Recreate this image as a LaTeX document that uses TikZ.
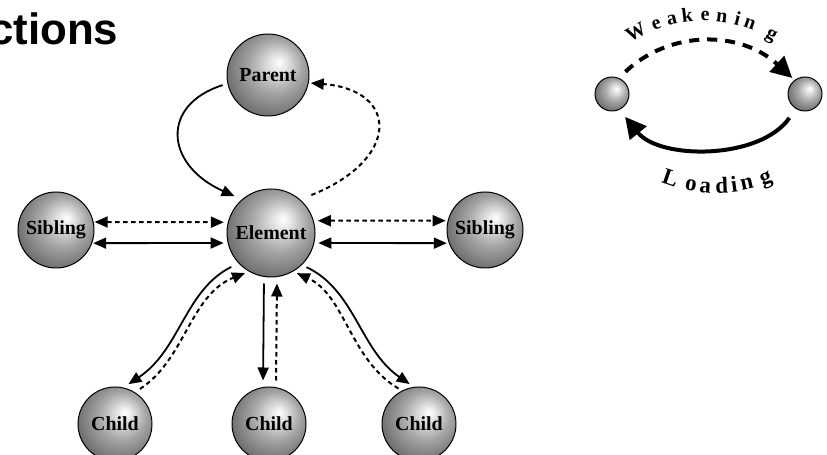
\documentclass[tikz,border=0pt]{standalone}
\usepackage{fontspec}
\setmainfont{Liberation Serif}
\newfontfamily\headfont{Liberation Sans}
\usetikzlibrary{arrows.meta}
\pgfdeclareradialshading{sphere}{\pgfpoint{7bp}{8bp}}{color(0bp)=(white); color(4bp)=(white!92!black); color(16bp)=(black!35); color(28bp)=(black!55); color(36bp)=(black!78); color(50bp)=(black!78)}
\tikzset{
  ball/.style={circle, draw=black, line width=1bp, shading=sphere, inner sep=0pt, font=\bfseries\fontsize{20}{22}\selectfont},
  solidline/.style={line width=1.8bp},
  dashline/.style={line width=2bp, dash pattern=on 4.5bp off 3.5bp},
  bigtip/.style={-{Triangle[length=21bp,width=21bp]}},
}
\begin{document}
\begin{tikzpicture}[x=1bp, y=1bp, >={Triangle[length=13bp,width=11bp]}]
    \useasboundingbox (0,0) rectangle (827,-455);

    \node[anchor=base west, inner sep=0pt, font=\headfont\bfseries\fontsize{44}{48}\selectfont] (title) at (-11,-45) {ctions};

    \node[ball, minimum size=82bp] (parent) at (268,-75) {Parent};
    \node[ball, minimum size=88bp] (elem) at (271,-233) {Element};
    \node[ball, minimum size=76bp] (sibl) at (56,-230) {Sibling};
    \node[ball, minimum size=76bp] (sibr) at (485,-230) {Sibling};
    \node[ball, minimum size=74bp] (childa) at (115,-424) {Child};
    \node[ball, minimum size=74bp] (childb) at (269,-424) {Child};
    \node[ball, minimum size=74bp] (childc) at (419,-424) {Child};

    \draw[solidline, ->, shorten <=5bp, shorten >=8bp] (parent.192) .. controls (160,-105) and (165,-165) .. (elem.131);
    \draw[dashline, ->, shorten <=12bp, shorten >=2bp] (elem.49) .. controls (400,-160) and (400,-90) .. (parent.349);

    \draw[dashline, <->, shorten <=1bp, shorten >=4bp] (sibl.12) -- (elem.166);
    \draw[solidline, <->, shorten <=1bp, shorten >=4bp] (sibl.340) -- (elem.193);
    \draw[dashline, <->, shorten <=4bp, shorten >=2bp] (elem.16) -- (sibr.166);
    \draw[solidline, <->, shorten <=4bp, shorten >=2bp] (elem.347) -- (sibr.200);

    \draw[solidline, ->, shorten <=8bp, shorten >=6bp] (elem.223) .. controls (185,-290) and (180,-350) .. (childa.77);
    \draw[dashline, ->, shorten <=6bp, shorten >=4bp] (childa.58) .. controls (185,-360) and (190,-295) .. (elem.240);
    \draw[solidline, ->, shorten <=6bp, shorten >=6bp] ([xshift=-7bp]elem.south) -- ([xshift=-6bp]childb.north);
    \draw[dashline, ->, shorten <=6bp, shorten >=6bp] ([xshift=7bp]childb.north) -- ([xshift=6bp]elem.south);
    \draw[solidline, ->, shorten <=5bp, shorten >=5bp] (elem.314) .. controls (355,-290) and (360,-350) .. (childc.98);
    \draw[dashline, ->, shorten <=4bp, shorten >=4bp] (childc.117) .. controls (350,-360) and (345,-295) .. (elem.300);

    \node[ball, minimum size=34bp] (small1) at (612,-94) {};
    \node[ball, minimum size=34bp] (small2) at (805,-94) {};
    \draw[line width=4bp, dash pattern=on 10bp off 8bp, bigtip, shorten <=9bp, shorten >=3bp] (small1.67) .. controls (670,-30) and (740,-30) .. (small2.127);
    \draw[line width=4bp, bigtip, shorten <=11bp, shorten >=9bp] (small2.238) .. controls (760,-160) and (660,-160) .. (small1.295);

    \foreach \ch/\a [count=\i] in {W/118.8, e/109.8, a/103, k/96.5, e/89.1, n/82.2, i/75.6, n/70.2, g/60.2}
        \node[anchor=base, inner sep=0pt, rotate=\a-90, font=\bfseries\fontsize{20}{22}\selectfont] (weak\i) at ([shift={(\a:133)}]703,-154) {\ch};
    \foreach \ch/\a [count=\i] in {L/251.1, o/259.9, a/265.7, d/272.3, i/277.4, n/282.5, g/290.5}
        \node[anchor=base, inner sep=0pt, rotate=\a+90, font=\bfseries\fontsize{23}{24}\selectfont] (load\i) at ([shift={(\a:148)}]716,-45) {\ch};
\end{tikzpicture}
\end{document}
